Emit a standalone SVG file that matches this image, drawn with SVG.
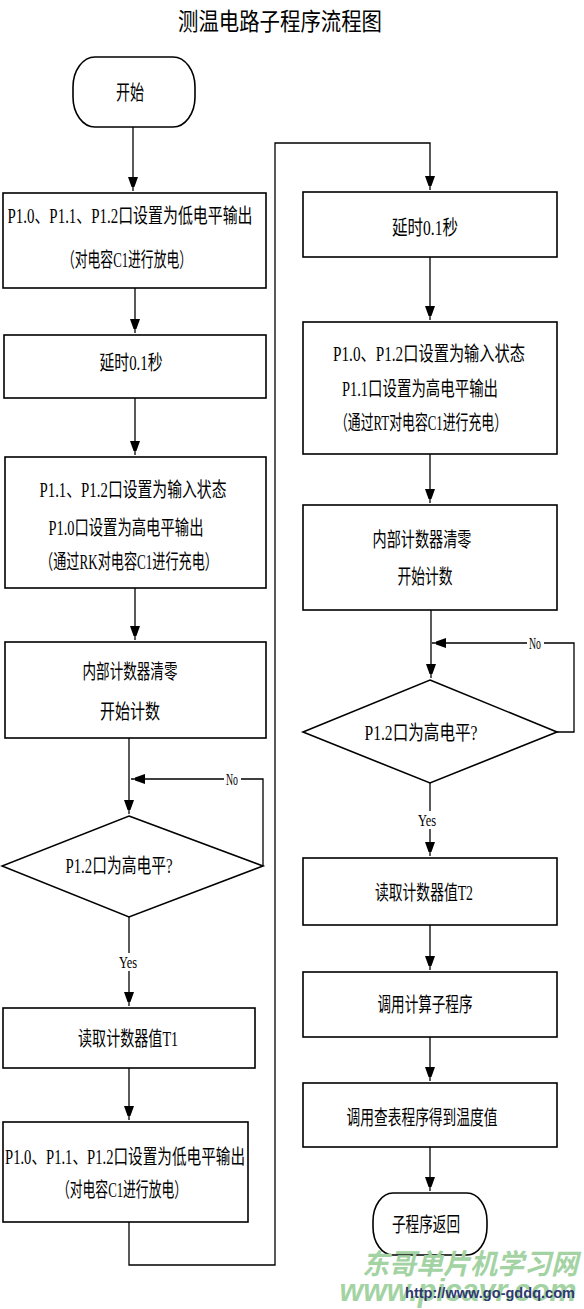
<svg xmlns="http://www.w3.org/2000/svg" width="584" height="1309" viewBox="0 0 584 1309">
<defs>
<marker id="arr" markerUnits="userSpaceOnUse" markerWidth="10" markerHeight="14" viewBox="0 0 10 14" refX="14" refY="5" orient="auto">
<path d="M0,0 L14,5 L0,10 Z" fill="#000"/>
</marker>
<style>
.box{fill:#fff;stroke:#000;stroke-width:1.6}
.t{font-family:"Liberation Serif","Noto Sans CJK SC",serif;font-size:20px;fill:#000;text-anchor:middle}
.lbl{font-family:"Liberation Serif","Noto Sans CJK SC",serif;font-size:16px;fill:#000;text-anchor:middle}
.c{fill:none;stroke:#000;stroke-width:1.3}
.bg{fill:#fff}
</style>
</defs>
<rect width="584" height="1309" fill="#fff"/>
<text x="280" y="30" class="t" style="font-size:24px" textLength="204" lengthAdjust="spacingAndGlyphs">测温电路子程序流程图</text>

<g id="connectors">
<path class="c" d="M133,127 V191" marker-end="url(#arr)"/>
<path class="c" d="M135,288 V333" marker-end="url(#arr)"/>
<path class="c" d="M135,398 V455" marker-end="url(#arr)"/>
<path class="c" d="M135,588 V640" marker-end="url(#arr)"/>
<path class="c" d="M129,738 V814" marker-end="url(#arr)"/>
<path class="c" d="M263,866 V779 H131" marker-end="url(#arr)"/>
<path class="c" d="M129,917 V1006" marker-end="url(#arr)"/>
<path class="c" d="M129,1068 V1120" marker-end="url(#arr)"/>
<path class="c" d="M129,1222 V1265 H275 V143 H430 V190" marker-end="url(#arr)"/>
<path class="c" d="M430,257 V320" marker-end="url(#arr)"/>
<path class="c" d="M430,454 V503" marker-end="url(#arr)"/>
<path class="c" d="M431,610 V678" marker-end="url(#arr)"/>
<path class="c" d="M557,732 H574 V643 H432" marker-end="url(#arr)"/>
<path class="c" d="M430,783 V856" marker-end="url(#arr)"/>
<path class="c" d="M430,925 V970" marker-end="url(#arr)"/>
<path class="c" d="M430,1037 V1081" marker-end="url(#arr)"/>
<path class="c" d="M430,1147 V1191" marker-end="url(#arr)"/>
<rect class="bg" x="224" y="771" width="17" height="16"/>
<text x="232" y="785" class="lbl" textLength="12" lengthAdjust="spacingAndGlyphs">No</text>
<rect class="bg" x="118" y="953" width="22" height="18"/>
<text x="128" y="968" class="lbl" textLength="18" lengthAdjust="spacingAndGlyphs">Yes</text>
<rect class="bg" x="527" y="635" width="17" height="16"/>
<text x="535" y="649" class="lbl" textLength="12" lengthAdjust="spacingAndGlyphs">No</text>
<rect class="bg" x="417" y="811" width="22" height="18"/>
<text x="427" y="826" class="lbl" textLength="18" lengthAdjust="spacingAndGlyphs">Yes</text>
</g>

<g id="start">
<rect class="box" x="73" y="57" width="122" height="70" rx="22" ry="30"/>
<text x="130" y="100" class="t" textLength="28" lengthAdjust="spacingAndGlyphs">开始</text>
</g>
<g id="box1">
<rect class="box" x="3" y="193" width="263" height="95"/>
<text x="130" y="223" class="t" textLength="245" lengthAdjust="spacingAndGlyphs">P1.0、P1.1、P1.2口设置为低电平输出</text>
<text x="127" y="267" class="t" textLength="130" lengthAdjust="spacingAndGlyphs">（对电容C1进行放电）</text>
</g>
<g id="box2">
<rect class="box" x="4" y="335" width="262" height="63"/>
<text x="131" y="370" class="t" textLength="63" lengthAdjust="spacingAndGlyphs">延时0.1秒</text>
</g>
<g id="box3">
<rect class="box" x="5" y="457" width="261" height="131"/>
<text x="133" y="497" class="t" textLength="187" lengthAdjust="spacingAndGlyphs">P1.1、P1.2口设置为输入状态</text>
<text x="126" y="535" class="t" textLength="155" lengthAdjust="spacingAndGlyphs">P1.0口设置为高电平输出</text>
<text x="129" y="569" class="t" textLength="178" lengthAdjust="spacingAndGlyphs">（通过RK对电容C1进行充电）</text>
</g>
<g id="box4">
<rect class="box" x="5" y="642" width="261" height="96"/>
<text x="130" y="679" class="t" textLength="95" lengthAdjust="spacingAndGlyphs">内部计数器清零</text>
<text x="130" y="719" class="t" textLength="60" lengthAdjust="spacingAndGlyphs">开始计数</text>
</g>
<g id="decision1">
<polygon class="box" points="129,816 263,866 129,917 2,866"/>
<text x="119" y="873" class="t" textLength="107" lengthAdjust="spacingAndGlyphs">P1.2口为高电平?</text>
</g>
<g id="box5">
<rect class="box" x="3" y="1008" width="252" height="60"/>
<text x="128" y="1046" class="t" textLength="100" lengthAdjust="spacingAndGlyphs">读取计数器值T1</text>
</g>
<g id="box6">
<rect class="box" x="3" y="1122" width="245" height="100"/>
<text x="125" y="1164" class="t" textLength="240" lengthAdjust="spacingAndGlyphs">P1.0、P1.1、P1.2口设置为低电平输出</text>
<text x="122" y="1197" class="t" textLength="130" lengthAdjust="spacingAndGlyphs">（对电容C1进行放电）</text>
</g>
<g id="box7">
<rect class="box" x="303" y="192" width="254" height="65"/>
<text x="425" y="235" class="t" textLength="66" lengthAdjust="spacingAndGlyphs">延时0.1秒</text>
</g>
<g id="box8">
<rect class="box" x="303" y="322" width="254" height="132"/>
<text x="429" y="361" class="t" textLength="192" lengthAdjust="spacingAndGlyphs">P1.0、P1.2口设置为输入状态</text>
<text x="420" y="396" class="t" textLength="156" lengthAdjust="spacingAndGlyphs">P1.1口设置为高电平输出</text>
<text x="421" y="430" class="t" textLength="172" lengthAdjust="spacingAndGlyphs">（通过RT对电容C1进行充电）</text>
</g>
<g id="box9">
<rect class="box" x="303" y="505" width="254" height="105"/>
<text x="422" y="547" class="t" textLength="99" lengthAdjust="spacingAndGlyphs">内部计数器清零</text>
<text x="425" y="584" class="t" textLength="55" lengthAdjust="spacingAndGlyphs">开始计数</text>
</g>
<g id="decision2">
<polygon class="box" points="430,680 557,732 430,783 303,732"/>
<text x="421" y="740" class="t" textLength="113" lengthAdjust="spacingAndGlyphs">P1.2口为高电平?</text>
</g>
<g id="box10">
<rect class="box" x="303" y="858" width="254" height="67"/>
<text x="424" y="900" class="t" textLength="98" lengthAdjust="spacingAndGlyphs">读取计数器值T2</text>
</g>
<g id="box11">
<rect class="box" x="303" y="972" width="254" height="65"/>
<text x="425" y="1012" class="t" textLength="95" lengthAdjust="spacingAndGlyphs">调用计算子程序</text>
</g>
<g id="box12">
<rect class="box" x="303" y="1083" width="254" height="64"/>
<text x="422" y="1125" class="t" textLength="151" lengthAdjust="spacingAndGlyphs">调用查表程序得到温度值</text>
</g>
<g id="end">
<rect class="box" x="373" y="1193" width="114" height="62" rx="20" ry="28"/>
<text x="426" y="1232" class="t" textLength="68" lengthAdjust="spacingAndGlyphs">子程序返回</text>
</g>

<g id="watermark">
<text x="470" y="1274" style="font-family:'Noto Sans CJK SC',sans-serif;font-size:28px;font-weight:bold;font-style:italic;fill:#a3d3a3;text-anchor:middle" textLength="216" lengthAdjust="spacingAndGlyphs">东哥单片机学习网</text>
<text x="458" y="1301" style="font-family:'Liberation Sans',sans-serif;font-size:32px;font-weight:bold;font-style:italic;fill:#a3d3a3;text-anchor:middle" textLength="237" lengthAdjust="spacingAndGlyphs">www.picavr.com</text>
<text x="490" y="1298" style="font-family:'Liberation Sans',sans-serif;font-size:15px;font-weight:bold;fill:#2e3a6e;text-anchor:middle" textLength="170" lengthAdjust="spacingAndGlyphs">http://www.go-gddq.com</text>
</g>
</svg>
